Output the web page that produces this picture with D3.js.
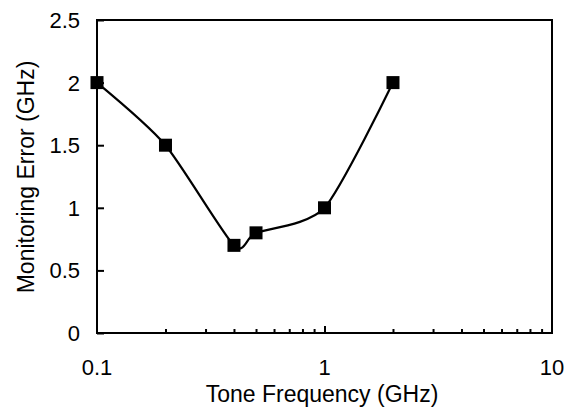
<!DOCTYPE html>
<html><head><meta charset="utf-8">
<script src="https://cdn.jsdelivr.net/npm/d3@7"></script>
<style>body{margin:0;background:#fff}svg{display:block}text{font-family:"Liberation Sans",Arial,sans-serif;fill:#000}</style>
</head><body><svg id="c" width="575" height="407"></svg>
<script>
const freqs = [0.1, 0.2, 0.4, 0.5, 1, 2];
const errors = [2, 1.5, 0.7, 0.8, 1, 2];
const yTicks = [0, 0.5, 1, 1.5, 2, 2.5];
const xMajorTicks = [0.1, 1, 10];
const xTitle = "Tone Frequency (GHz)";
const yTitle = "Monitoring Error (GHz)";

const svg = d3.select("#c");
const L = 97, R = 552, T = 20, B = 333;
const x = d3.scaleLog().domain([0.1, 10]).range([L, R]);
const y = d3.scaleLinear().domain([0, 2.5]).range([B, T]);

// frame
svg.append("rect").attr("x", L).attr("y", T).attr("width", R - L).attr("height", B - T)
  .attr("fill", "none").attr("stroke", "#000").attr("stroke-width", 2);

// y ticks (inside)
const yAx = svg.append("g").attr("transform", `translate(${L},0)`)
  .call(d3.axisRight(y).tickValues(yTicks).tickSize(7).tickFormat(""));
yAx.select(".domain").remove();
yAx.selectAll("line").attr("stroke", "#000").attr("stroke-width", 2);
svg.selectAll(".ylab").data(yTicks).enter().append("text")
  .attr("x", 80).attr("y", d => y(d)).attr("dy", "0.36em")
  .attr("text-anchor", "end").attr("font-size", 22).text(d => d);

// x ticks (inside), minor + major
const minor = [];
[0.1, 1].forEach(dec => { for (let k = 2; k <= 9; k++) minor.push(dec * k); });
const xAxMinor = svg.append("g").attr("transform", `translate(0,${B})`)
  .call(d3.axisTop(x).tickValues(minor).tickSize(4).tickFormat(""));
xAxMinor.select(".domain").remove();
xAxMinor.selectAll("line").attr("stroke", "#000").attr("stroke-width", 2);
const xAxMajor = svg.append("g").attr("transform", `translate(0,${B})`)
  .call(d3.axisTop(x).tickValues([1]).tickSize(7).tickFormat(""));
xAxMajor.select(".domain").remove();
xAxMajor.selectAll("line").attr("stroke", "#000").attr("stroke-width", 2);
svg.selectAll(".xlab").data(xMajorTicks).enter().append("text")
  .attr("x", d => x(d)).attr("y", 375).attr("text-anchor", "middle")
  .attr("font-size", 22).text(d => d);

// titles
svg.append("text").attr("x", 322).attr("y", 402).attr("text-anchor", "middle")
  .attr("font-size", 23).text(xTitle);
svg.append("text").attr("transform", `translate(34,177) rotate(-90)`)
  .attr("text-anchor", "middle").attr("font-size", 23).text(yTitle);

// line
const data = freqs.map((f, i) => [f, errors[i]]);
const line = d3.line().x(d => x(d[0])).y(d => y(d[1])).curve(d3.curveCardinal.tension(0.3));
svg.append("path").datum(data).attr("d", line).attr("fill", "none")
  .attr("stroke", "#000").attr("stroke-width", 2.2);

// markers
const s = 13;
svg.selectAll(".m").data(data).enter().append("rect")
  .attr("x", d => x(d[0]) - s / 2).attr("y", d => y(d[1]) - s / 2)
  .attr("width", s).attr("height", s).attr("fill", "#000");
</script></body></html>
